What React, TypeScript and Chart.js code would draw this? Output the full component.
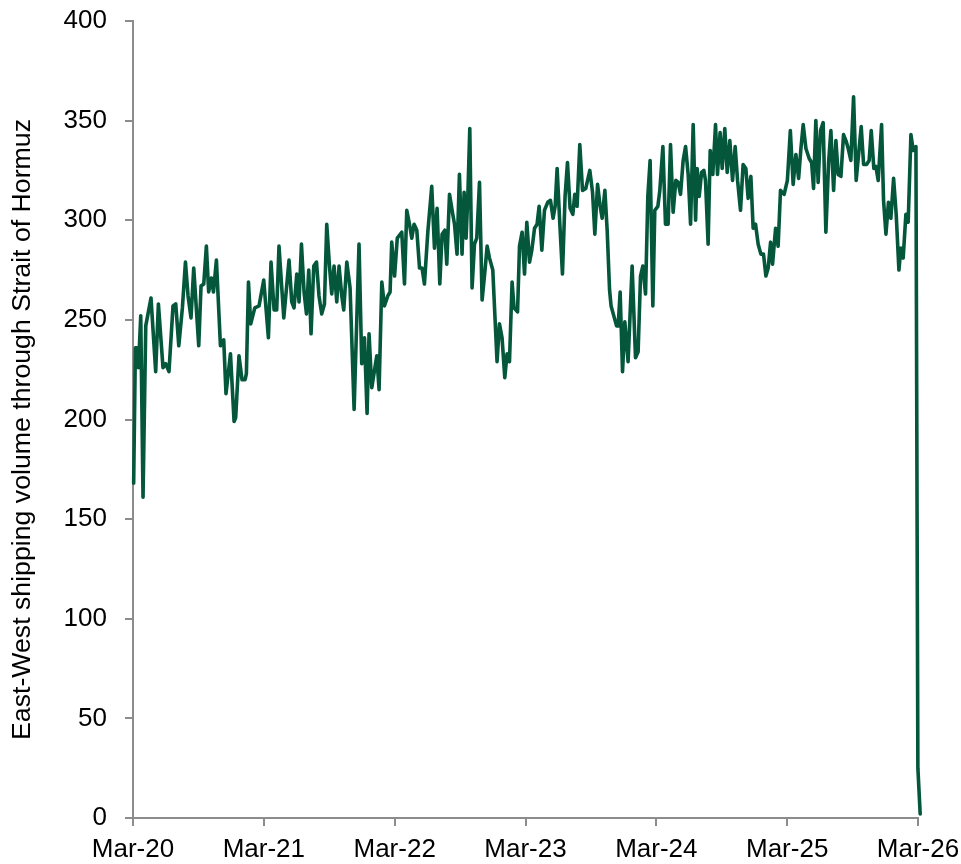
import React, { useEffect, useRef } from "react";
import { Chart, registerables } from "chart.js";

Chart.register(...registerables);

// Months elapsed since Mar-2020 for each observation
const monthsSinceMar20: number[] = [
  0.06, 0.22, 0.37, 0.5, 0.71, 0.92, 1.17, 1.41, 1.65, 2.08, 2.33, 2.75, 3.0, 3.3, 3.67, 3.92, 4.2, 4.53, 4.81, 5.05,
  5.32, 5.57, 6.03, 6.24, 6.49, 6.73, 6.94, 7.19, 7.38, 7.65, 8.02, 8.32, 8.53, 8.94, 9.27, 9.42, 9.72, 10.0, 10.28, 10.4,
  10.59, 10.8, 11.17, 11.56, 11.99,
  12.42, 12.66, 12.94, 13.18, 13.39, 13.83, 14.31, 14.56, 14.77, 15.02, 15.23, 15.45, 15.69, 15.91, 16.12, 16.33, 16.58,
  16.83, 17.06, 17.31, 17.56, 17.77, 18.02, 18.23, 18.44, 18.69, 18.9, 19.15, 19.33, 19.61, 19.91, 20.28, 20.73, 20.98,
  21.23, 21.47, 21.65, 21.9, 22.36, 22.57, 22.82, 23.06, 23.37, 23.58, 23.73, 23.99, 24.24,
  24.65, 24.9, 25.11, 25.36, 25.57, 25.78, 26.03, 26.28, 26.51, 26.73, 27.04, 27.4, 27.65, 27.89, 28.14, 28.35, 28.6,
  28.78, 29.03, 29.33, 29.49, 29.72, 29.94, 30.18, 30.37, 30.55, 30.71, 30.89, 31.1, 31.32, 31.53, 31.78, 32.02, 32.27,
  32.48, 32.7, 33.0, 33.39, 33.61, 33.85, 34.1, 34.31, 34.53, 34.77, 34.95, 35.27, 35.45, 35.69, 35.91, 36.12,
  36.37, 36.58, 36.83, 37.06, 37.25, 37.5, 37.74, 38.04, 38.29, 38.53, 38.72, 38.9, 39.15, 39.39, 39.63, 39.85, 40.09,
  40.34, 40.52, 40.73, 40.98, 41.23, 41.53, 41.9, 42.15, 42.36, 42.61, 42.82, 43.03, 43.28, 43.49, 43.71, 43.85, 44.1,
  44.35, 44.5, 44.68, 44.9, 45.11, 45.41, 45.78, 46.09, 46.33, 46.55, 46.76, 47.01, 47.22, 47.43, 47.68, 47.86, 48.14,
  48.32, 48.6, 48.84, 49.08, 49.3, 49.54, 49.79, 50.0, 50.22, 50.46, 50.68, 50.92, 51.14, 51.38, 51.6, 51.74, 51.93,
  52.15, 52.36, 52.51, 52.75, 52.94, 53.18, 53.43, 53.61, 53.85, 54.04, 54.28, 54.5, 54.74, 54.99, 55.23, 55.45, 55.72,
  55.96, 56.21, 56.42, 56.67, 56.88, 57.1, 57.34, 57.59, 57.83, 58.05, 58.26, 58.48, 58.66, 58.94, 59.17, 59.39, 59.72,
  60.02, 60.29,
  60.55, 60.8, 61.05, 61.26, 61.47, 61.72, 62.02, 62.24, 62.42, 62.63, 62.84, 63.06, 63.3, 63.55, 63.8, 64.01, 64.26,
  64.47, 64.68, 64.93, 65.17, 65.39, 65.6, 65.84, 66.09, 66.33, 66.55, 66.79, 67.01, 67.28, 67.52, 67.71, 67.95, 68.14,
  68.35, 68.66, 68.84, 69.06, 69.29, 69.51, 69.76, 70.0, 70.25, 70.43, 70.64, 70.89, 71.1, 71.35, 71.56, 71.81, 71.99,
  72.2,
];

// East-West shipping volume through the Strait of Hormuz
const shippingVolume: number[] = [
  168, 236, 236, 226, 252, 161, 247, 254, 261, 224, 258, 226, 228, 224, 257, 258, 237, 256, 279, 262,
  251, 276, 237, 267, 268, 287, 264, 271, 264, 280, 237, 240, 213, 233, 199, 201, 232, 220, 220, 223,
  269, 248, 256, 257, 270,
  241, 279, 255, 255, 287, 251, 280, 259, 256, 273, 259, 288, 264, 253, 275, 243, 277,
  279, 262, 253, 258, 298, 277, 263, 277, 259, 277, 262, 255, 279, 266, 205, 288, 228,
  241, 203, 243, 216, 232, 215, 269, 257, 262, 264, 289, 272, 291,
  294, 268, 305, 298, 291, 298, 295, 276, 276, 268, 294, 317, 286, 306, 268, 293, 295,
  278, 313, 303, 298, 283, 323, 283, 314, 291, 312, 346, 266, 288, 291, 319, 260, 274,
  287, 281, 275, 229, 248, 241, 221, 233, 229, 269, 256, 254, 287, 294, 273, 299,
  279, 285, 296, 298, 307, 285, 305, 309, 310, 301, 307, 326, 298, 273, 312, 329, 306,
  303, 313, 307, 338, 315, 316, 325, 314, 293, 318, 308, 301, 315, 295, 265, 257, 252,
  247, 247, 264, 224, 249, 229, 277, 231, 234, 272, 277, 263, 312, 330, 257, 305, 307,
  315, 337, 298, 298, 338, 304, 320, 319, 313, 330, 337, 323, 298, 348, 300, 326, 312,
  324, 325, 320, 288, 335, 323, 348, 323, 344, 326, 346, 324, 340, 320, 337, 320, 305,
  328, 326, 311, 322, 296, 298, 288, 283, 283, 272, 276, 289, 278, 296, 287, 315, 313,
  320, 345,
  318, 333, 321, 336, 348, 336, 331, 329, 316, 350, 319, 345, 349, 294, 329, 345, 315,
  340, 323, 322, 343, 340, 336, 330, 362, 320, 333, 347, 328, 328, 330, 345, 326, 327,
  320, 348, 310, 293, 309, 301, 321, 303, 275, 286, 281, 303, 299, 343, 335, 337, 25,
  2,
];

const xTickLabels: string[] = ["Mar-20", "Mar-21", "Mar-22", "Mar-23", "Mar-24", "Mar-25", "Mar-26"];
const yAxisTitle = "East-West shipping volume through Strait of Hormuz";

const FONT_FAMILY = "'Liberation Sans', Arial, sans-serif";

// Draws the rotated y-axis title, centred slightly below the axis midpoint as in the source.
const yTitlePlugin = {
  id: "yTitle",
  afterDraw(chart: any) {
    const { ctx, chartArea } = chart;
    ctx.save();
    ctx.font = `26.7px ${FONT_FAMILY}`;
    ctx.fillStyle = "#000";
    ctx.textAlign = "center";
    ctx.textBaseline = "middle";
    ctx.translate(23, (chartArea.top + chartArea.bottom) / 2 + 10);
    ctx.rotate(-Math.PI / 2);
    ctx.fillText(yAxisTitle, 0, 0);
    ctx.restore();
  },
};

export default function App() {
  const canvasRef = useRef<HTMLCanvasElement | null>(null);

  useEffect(() => {
    const canvas = canvasRef.current;
    if (!canvas) return;
    const points = monthsSinceMar20.map((m, i) => ({ x: m, y: shippingVolume[i] }));
    const axisGray = "#8c8c8c";
    const font = { family: FONT_FAMILY, size: 26 };

    const chart = new Chart(canvas, {
      type: "line",
      data: {
        datasets: [
          {
            data: points,
            borderColor: "#04573A",
            borderWidth: 3.6,
            pointRadius: 0,
            tension: 0,
            fill: false,
            clip: false,
            borderJoinStyle: "round",
            borderCapStyle: "round",
          } as any,
        ],
      },
      plugins: [yTitlePlugin],
      options: {
        animation: false,
        responsive: false,
        maintainAspectRatio: false,
        layout: { padding: { top: 21, right: 43, bottom: 0, left: 0 } },
        plugins: {
          legend: { display: false },
          tooltip: { enabled: false },
        },
        scales: {
          x: {
            type: "linear",
            min: 0,
            max: 72,
            afterFit: (scale: any) => {
              scale.height = 46;
              scale.paddingLeft = 0;
              scale.paddingRight = 0;
            },
            afterBuildTicks: (scale: any) => {
              scale.ticks = xTickLabels.map((_, i) => ({ value: i * 12 }));
            },
            ticks: {
              autoSkip: false,
              maxRotation: 0,
              padding: 8,
              color: "#000",
              font,
              callback: (v: any) => xTickLabels[Math.round(Number(v) / 12)] ?? "",
            },
            grid: {
              display: true,
              drawOnChartArea: false,
              drawTicks: true,
              tickLength: 8,
              color: axisGray,
              lineWidth: 2,
            },
            border: { display: true, color: axisGray, width: 2 },
          },
          y: {
            type: "linear",
            min: 0,
            max: 400,
            afterFit: (scale: any) => {
              scale.width = 133;
              scale.paddingTop = 0;
              scale.paddingBottom = 0;
            },
            ticks: {
              stepSize: 50,
              padding: 18,
              color: "#000",
              font,
            },
            grid: {
              display: true,
              drawOnChartArea: false,
              drawTicks: true,
              tickLength: 8,
              color: axisGray,
              lineWidth: 2,
            },
            border: { display: true, color: axisGray, width: 2 },
            title: { display: false },
          },
        },
      } as any,
    });

    return () => {
      chart.destroy();
    };
  }, []);

  return (
    <div style={{ position: "absolute", left: 0, top: 0, width: 961, height: 864, background: "#fff" }}>
      <canvas ref={canvasRef} width={961} height={864} style={{ display: "block" }} />
    </div>
  );
}
